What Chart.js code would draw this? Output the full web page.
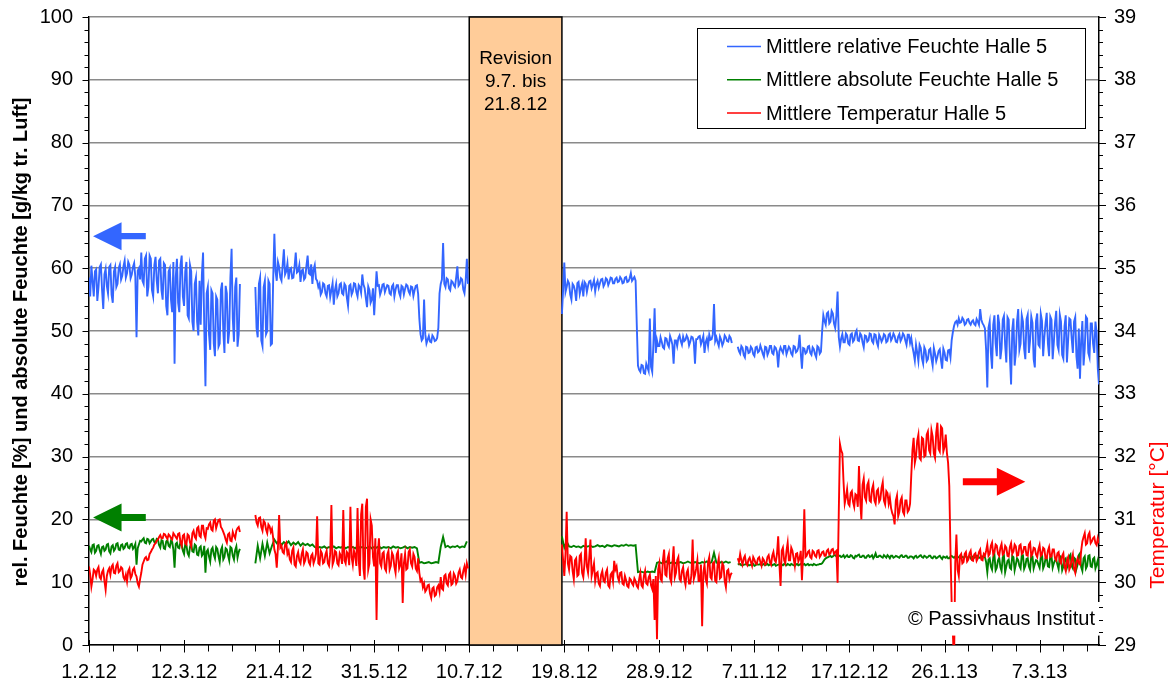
<!DOCTYPE html>
<html>
<head>
<meta charset="utf-8">
<script src="https://cdn.jsdelivr.net/npm/chart.js@4.4.1/dist/chart.umd.min.js"></script>
<style>
html,body{margin:0;padding:0;background:#fff;}
canvas{display:block;}
</style>
</head>
<body>
<canvas id="c" width="1171" height="689"></canvas>
<script>
// ---- DATA (day index from 1.2.2012; readings at 0:00 and 12:00) ----
const START_DATE = Date.UTC(2012, 1, 1);
const SEG_STARTS = [0, 70, 199, 273];
const X_TICK_STEP = 40;

// Mittlere relative Feuchte Halle 5 [%] - 0:00 readings
const rhA = [58.5,60.4,55.5,59.8,57,60.6,53.5,59.9,56,60.5,
 54.5,60.2,57.5,60.6,58.8,61.2,59.2,60.5,59,60.8,
 49,60,62.5,57.5,62,57,61.5,55.5,61.8,56,
 61.5,55,60.5,52.5,60,53,44.8,61.5,53,62,
 54,61,52,59.5,50,58.5,49.3,51,62.5,41.2,
 57,47,56,46,55,48,57.7,46.5,56,50,
 63.1,48.3,58.5,49.5];
const rhB = [57,49,58.5,47.6,58,50,57.5,48,65.5,58,
 60.2,58,63,59.5,58.2,60,58.5,62.5,59.5,57.8,
 59.8,58.5,62,59,57.5,60.5,58,57.5,56.2,57.4,
 55.5,57.3,56.5,54.2,57.5,56,57.6,55.8,57.2,54,
 57.4,56.3,57.5,55.5,57,59,56.8,53.8,56.5,55,
 52.5,59.5,57.3,56.4,57.5,56.8,57.2,55.8,57.4,56.6,
 57.3,55.5,57,56.7,57.2,55.9,57,56.5,57.3,52,
 48.5,55,48,49.2,48.2,49,48.5,50.5,57.5,64,
 57,58.2,56.5,57.8,57,60.3,57.5,58.2,56,61.5];
const rhC = [52.7,60.9,57,57.6,55,57.2,54.8,57.8,56.8,55.5,
 57.5,57.2,58,57.4,56.3,58,57.6,58.3,57.5,58.2,
 57.8,58.4,57.6,58.5,57.9,58.3,57.7,58.6,57.9,59.2,
 58.3,58,44.5,43.5,44.5,43.2,44.2,52,43.5,53.6,
 48.5,47.6,48.3,47.2,48.8,47.5,48.6,44.8,48.5,48.9,
 48.4,49.1,48.6,48.9,48.3,49,44.8,48.7,49.2,48.5,
 46.5,48.8,49.4,48.7,54.3,49,47.6,48.6,48.2,49,
 48.3,48.9];
const rhD = [47.5,46.4,47.3,45.8,47.4,46.6,47.2,46,47.5,46.8,
 47.1,45.9,47.4,46.7,47.6,46.3,47.3,44.2,47.4,46.5,
 47.6,46.9,47.2,46.1,47.5,46.8,49.4,44,47.2,46.6,
 47.6,46.2,47.1,45.8,47.4,46.7,52.5,51,53,51.5,
 52.8,50.5,56.3,47.5,49.5,48.2,49.3,47.8,49.6,48.6,
 50.1,48.4,49.3,47.4,49.2,48.5,49.5,48.1,49.4,47.6,
 49,48.7,49.3,48.4,49.6,48.9,49.2,48.2,49.5,48.8,
 49.3,47.8,49.4,48.9,46.5,47.8,45.2,47.3,44.8,46.9,
 45.5,47.2,44.5,46.4,45.9,47.1,44,46.6,45.3,47,
 48.5,50.8,51.6,52,51.4,51.8,51.2,51.9,51,51.7,
 50.9,51.5,53.5,51.2,50.4,41,51.5,44,52.5,46,
 51.2,47.2,52.4,45,51.8,41.5,52,46.5,53.5,48,
 51.5,45.5,52.6,48.5,51.3,44.2,52.8,47.5,51.6,49,
 52.9,46,51.8,48.2,53.2,47,51.5,45.6,52.5,48.4,
 51.8,46.5,52.2,44,42.4,51.6,47.2,52,45.8,51.2,
 46.5,49.8,41.5];
// relative Feuchte - 12:00 readings
const rhA2 = [55.5,58,59.5,54.8,60.2,56.5,59,57.2,60.2,55.8,
 59.5,57,60,58.2,60.3,58.5,61,58.4,60.2,58.6,
 59.6,58.2,58,61.5,55.5,62,56.5,60.5,58,61.2,
 56.5,60.8,54,59.5,55,61,58.5,54.5,60.5,55.5,
 59.5,52.5,60.5,51.5,57.5,51.5,58,59,50.5,56,
 49.5,56.5,48,55.5,47.5,56.5,50,57.2,48,58.5,
 52,57,47.5,57.5];
const rhB2 = [50.5,57.5,48.5,57,49.5,58,47.8,58.2,59.5,61,
 58.5,60.5,59,60.8,59.8,58.4,60.2,59.3,60.5,59.6,
 58.2,60.4,59.2,60.6,59.8,58.3,57,55.8,57.6,56,
 57.2,55.4,57.6,56.5,55.5,57.4,56,57.5,55.3,57.2,
 55.8,57.6,56.2,57.3,56.1,57.4,55.2,57.1,54.5,56.8,
 56,57.2,55.8,57.4,56.2,57.3,56,57.1,55.5,57.3,
 56.1,57.2,55.8,57.4,56.3,57.1,55.6,57.2,55.9,49.5,
 48.8,49.5,48.6,48.3,49.3,48.4,48.9,56,58.2,57.5,
 58.4,56.8,58,57.3,58.5,57.2,58.4,56.6,58,57.5];
const rhC2 = [56.5,56.2,58,55.8,57.5,56.4,57.6,55.9,57.5,57.8,
 56.2,57.9,56.8,58.1,57.5,56.9,58.2,57.1,58.4,57.3,
 58.5,57.6,58.3,57.8,58.6,57.6,58.5,57.8,58.4,58,
 58.6,51,43.8,44.6,43.3,44.8,43.6,44.3,48,46.5,
 47.6,49,47.4,48.9,47.9,49.2,47.8,48.5,47.6,49.3,
 47.8,48.4,49.3,47.7,49.1,48.2,48.7,49.1,47.9,49.2,
 48.2,47.6,48.6,49.5,48.4,48.2,49.1,47.7,49.3,48.4,
 49.2,48.1];
const rhD2 = [46.8,47.6,46.2,47.5,46.5,47.5,46.3,47.4,46.6,47.7,
 46.4,47.5,46.2,47.6,46.5,47.5,46.6,46.8,46.9,47.6,
 46.3,47.5,46.4,47.6,46.6,47.4,46.5,47.3,46.4,47.5,
 46.5,47.4,46.3,47.6,46.4,50,51.6,52.8,51.2,53.2,
 51.2,52.5,49,48.8,48.2,49.6,48,49.4,48.3,49.7,
 48.5,49.6,48.2,49.3,48.3,49.6,48.4,49.5,48.2,49.4,
 48.3,49.5,48.2,49.4,48.5,49.6,48.3,49.1,48.4,49.6,
 48.5,49.4,48.1,47.5,45.3,46.6,47.8,45.6,47.4,45.2,
 47,45.6,47.3,45.2,46.8,45.4,47.2,45.4,46.9,45.8,
 49.8,51.4,51,51.3,52.1,51,51.8,51.3,51.5,51.1,
 51.9,51,51.8,50.9,47,50.5,46.5,51,48,52.6,
 45.5,51.8,47.8,52.2,46,50.2,44.5,51.5,47,52.5,
 47.2,51.9,46.5,52.3,45.5,51.6,47.8,52.7,46,51.2,
 48,52.3,45.5,51.4,47.8,52.6,46.2,50.8,45,52,
 48.8,51.5,46,50.4,48.5,44.5,52.3,46.5,51.2,48,
 51.5,44,45];

// Mittlere absolute Feuchte Halle 5 [g/kg] - 0:00 readings
const ahA = [15.8,14.8,16,15,15.9,14.5,15.7,15.2,16.1,14.6,
 15.9,15.3,16.2,15.1,16,15.5,16.2,15.4,16.1,15.6,
 12.8,16,16.5,17,16.2,16.8,16.5,16.9,16.3,16.8,
 15.5,16.6,15.3,16.7,15.6,16.4,12.3,16.3,15.4,16,
 14.5,15.9,14.2,16.2,14.8,15.8,14.3,15.7,14.5,11.5,
 15.2,13.3,15.5,13.8,15.3,13.2,15.6,14,15.2,13.5,
 15.4,13.6,15.7,14.8];
const ahB = [13,15.8,13.8,16.1,14.2,16.3,14.6,15.8,16.8,16.2,
 16.6,15.9,16.4,16.1,16.5,15.9,16.3,16,16.4,15.8,
 16.2,15.9,16.1,15.8,16,15.6,15.4,15.6,15.5,15.7,
 15.4,15.6,15.5,15.7,15.4,15.6,15.5,15.7,15.4,15.6,
 15.5,15.6,15.4,15.7,15.5,15.6,15.4,15.5,15.7,15.4,
 15.6,15.5,15.7,15.4,15.6,15.5,15.6,15.4,15.7,15.5,
 15.6,15.4,15.5,15.7,15.4,15.6,15.5,15.6,15.4,13.1,
 13.2,13,13.1,13.2,13,13.1,13.2,13.1,15.6,17.2,
 15.6,15.8,15.5,15.7,15.6,15.8,15.5,15.7,15.6,16.5];
const ahC = [17.3,15.5,16.5,15.7,15.6,15.8,15.6,15.7,15.5,15.8,
 15.6,15.7,15.8,15.6,15.7,15.9,15.7,15.8,15.6,15.9,
 15.8,15.7,15.9,15.8,15.7,15.9,15.8,16,15.8,15.9,
 15.8,15.9,11.6,11.7,11.6,11.5,11.7,11.6,11.7,11.6,
 13.1,13.2,13,13.1,13.3,13,13.1,13.2,13,13.1,
 13.2,13,13.1,13.3,13.1,13,13.2,13.1,13,13.2,
 13.1,13.3,13,13.2,14.7,13.1,13,13.2,13.1,13.3,
 13.1,13.2];
const ahD = [12.8,12.9,12.7,12.8,12.9,12.7,12.8,12.6,12.9,12.8,
 12.7,12.9,12.8,12.7,12.9,12.8,12.6,12.8,12.9,12.7,
 12.8,12.9,12.7,12.8,12.6,12.9,12.8,12.7,12.9,12.8,
 12.7,12.8,12.9,12.7,12.8,12.9,13.3,13.8,14,14.2,
 14.1,14.3,14,14.2,14.1,13.9,14.3,14,14.2,13.8,
 14.1,14.4,14,14.2,13.9,14.3,14.1,13.8,14.6,14,
 14.2,13.9,14.1,14.3,13.8,14.2,14,14.1,13.9,14.3,
 14,14.2,13.9,14.1,13.8,14.2,14,14.3,13.9,14.1,
 14,14.2,13.8,14.1,13.9,14.2,13.7,14,14.1,13.8,
 14.2,13.9,14.1,14,14.2,13.9,14.1,14,13.8,14.1,
 14,14.2,13.9,14.1,14,11.6,13.8,12,14.4,12.3,
 13.9,11.8,14.2,12.5,13.6,12.1,14,12.8,13.5,12.2,
 14.3,12.6,13.8,12,14.1,12.9,13.4,12.3,14.5,12.7,
 13.9,12.4,14.2,13,13.6,12.1,14,12.5,13.8,12.9,
 14.4,12.2,13.7,12.8,14.6,11.8,14.1,12.6,14.3,12.4,
 13.9,12.8,12];
// absolute Feuchte - 12:00 readings (segments A and D)
const ahA2 = [15.2,15.9,14.7,15.8,15.1,15.6,15,16,14.9,15.7,
 15,16.1,15.2,15.9,15.3,16.1,15.5,16,15.3,16.1,
 15.4,16.6,16.8,16.3,16.9,16.2,16.8,16.4,16.9,15.9,
 16.7,15.4,16.5,15.8,16.6,15.2,16.1,15.5,16.5,15,
 16.1,14.6,15.6,14.9,16,14.4,15.5,14.2,15.8,14.9,
 14.1,15.2,14.4,15.6,14.1,15.1,13.6,15.4,14.3,15.6,
 14.2,15.1,13.9,15.3];
const ahD2 = [12.9,12.7,12.8,12.9,12.7,12.8,12.9,12.7,12.8,12.9,
 12.8,12.7,12.9,12.8,12.7,12.9,12.7,12.8,12.8,12.9,
 12.7,12.8,12.9,12.7,12.8,12.7,12.9,12.8,12.7,12.9,
 12.8,12.7,12.8,12.8,12.9,13,13.6,13.9,14.1,14,
 14.3,14.1,14.2,14,14.3,14.1,14,14.3,13.9,14.2,
 14.3,14,14.2,13.9,14.2,14,14.3,14.1,14,14.2,
 14,14.3,13.9,14.1,14.2,13.9,14.2,14,14.2,14,
 14.2,13.9,14.1,14,14.1,13.9,14.2,14,14.2,13.9,
 14.2,13.9,14.1,13.8,14.1,13.9,14.1,13.9,13.8,14.1,
 14,14.1,13.9,14.2,14,14.1,13.9,14.2,14,13.9,
 14.2,13.9,14.1,14,13.2,13.6,12.5,13.9,11.9,13.5,
 12.4,14,11.6,13.4,12.3,14.2,11.9,13.8,12.6,14.3,
 12.1,13.7,12.5,14.2,12.2,13.5,12.8,14,12.2,13.8,
 12.5,14.1,12.3,13.5,12.8,14.2,11.9,13.6,12.3,14.1,
 12.6,13.9,12.1,14.3,12.4,13.8,12.2,14.2,12.5,13.7,
 12.2,13.5,12.5];

// Mittlere Temperatur Halle 5 [°C] - 0:00 readings
const tA = [30.25,29.93,30.2,30.1,30.24,30.05,30.2,29.88,30.18,30.12,
 30.28,30.14,30.3,30.18,30.22,30.04,30.01,30.22,30.1,30.23,
 30.09,29.93,30.15,30.33,30.4,30.36,30.48,30.55,30.62,30.68,
 30.75,30.7,30.76,30.69,30.74,30.68,30.75,30.69,30.78,30.58,
 30.76,30.6,30.74,30.57,30.82,30.69,30.88,30.72,30.9,30.7,
 30.85,30.95,30.82,31,30.93,31,30.85,30.75,30.63,30.78,
 30.65,30.74,30.82,30.88];
const tB = [31.07,30.9,31.03,30.82,30.95,30.78,30.89,30.85,30.52,30.23,
 31.07,30.58,30.46,30.63,30.5,30.32,30.55,30.25,30.48,30.3,
 30.52,30.35,30.46,30.28,30.45,30.36,31.05,30.28,30.46,30.32,
 30.5,30.26,31.23,30.34,30.48,30.27,30.42,31.15,30.3,30.45,
 31.2,30.28,30.43,31.18,30.1,31.25,30.04,31.33,30.3,30.9,
 30.25,29.4,30.7,30.25,30.48,30.18,30.5,30.26,30.42,30.15,
 30.49,30.28,29.67,30.45,30.22,30.52,30.25,30.4,30.18,30.15,
 30.05,29.98,29.88,29.96,29.75,29.92,29.8,29.95,30.08,29.88,
 30.12,29.95,30.15,29.98,30.1,30.02,30.2,30.06,30.25,30.3];
const tC = [30.6,30.1,31.12,30.2,30.4,30.05,30.38,30.12,30.45,30.08,
 30.7,30.15,30.68,30.2,30.02,30.16,29.94,30.18,30,30.2,
 29.92,30.15,30.34,30.25,30.02,30.16,29.96,30.03,29.92,30.04,
 29.95,30.02,29.91,30.15,29.92,30.18,29.96,30.12,29.89,29.4,
 29.09,30.3,30.02,30.52,30.1,30.45,30,30.57,30.15,30.4,
 30.02,30.24,29.96,30.2,29.98,30.68,30.12,30.35,30.02,29.3,
 30.28,29.98,30.4,30.05,30.32,30,30.38,30.08,30.26,29.92,
 30.2,30.12];
const tD = [30.38,30.45,30.28,30.42,30.27,30.39,30.26,30.36,30.29,30.4,
 30.26,30.35,30.3,30.43,30.28,30.48,30.32,30.73,29.94,30.55,
 30.3,30.63,30.35,30.5,30.26,30.46,30.38,30.03,31.16,30.42,
 30.5,30.38,30.48,30.4,30.51,30.43,30.49,30.42,30.52,30.46,
 30.53,30.48,29.99,32.2,32.05,31.25,31.48,31.22,31.45,31.2,
 31.38,31.85,31,31.65,31.3,31.6,31.28,31.55,31.25,31.48,
 31.32,31.59,31.24,31.42,31.35,31.1,30.92,31.38,31.12,31.35,
 31.08,31.3,31.15,31.7,32.3,32,32.35,31.95,32.28,32.02,
 32.4,32.05,32.32,31.98,32.54,32.08,32.45,32.15,32.06,31.53,
 29.67,28.7,30.76,30.1,30.45,30.32,30.48,30.36,30.5,30.34,
 30.46,30.38,30.52,30.35,30.42,30.6,30.45,30.63,30.48,30.58,
 30.42,30.61,30.46,30.55,30.41,30.62,30.49,30.57,30.43,30.6,
 30.47,30.56,30.42,30.63,30.45,30.54,30.4,30.59,30.44,30.53,
 30.38,30.56,30.41,30.52,30.35,30.48,30.3,30.46,30.18,30.4,
 30.25,30.44,30.15,30.38,30.28,30.65,30.78,30.62,30.79,30.65,
 30.72,30.59,30.62];
// Temperatur - 12:00 readings
const tA2 = [30.12,30.05,30.18,30.2,30.08,30.16,30.02,30.1,30.22,30.25,
 30.15,30.26,30.16,30.24,30.08,30.12,30.18,30.06,30.2,30.13,
 29.98,30.05,30.28,30.38,30.35,30.45,30.52,30.6,30.66,30.72,
 30.7,30.77,30.72,30.76,30.7,30.78,30.72,30.77,30.64,30.74,
 30.62,30.76,30.63,30.78,30.72,30.86,30.74,30.9,30.76,30.86,
 30.92,30.84,30.98,30.86,30.99,30.88,30.8,30.68,30.76,30.66,
 30.8,30.7,30.86,30.8];
const tB2 = [30.95,31.02,30.88,30.98,30.84,30.92,30.8,30.7,30.45,30.55,
 30.55,30.48,30.6,30.45,30.36,30.5,30.28,30.42,30.34,30.45,
 30.3,30.48,30.32,30.42,30.3,30.45,30.3,30.5,30.3,30.44,
 30.3,30.45,30.28,30.5,30.3,30.46,30.29,30.35,30.48,30.27,
 30.4,30.5,30.26,30.35,31.08,30.22,31.2,30.2,31,30.4,
 30.7,30.45,30.3,30.46,30.22,30.44,30.2,30.47,30.25,30.44,
 30.22,30.46,30.3,30.2,30.48,30.3,30.45,30.22,30.38,30.02,
 29.92,29.85,29.95,29.82,29.9,29.78,29.92,29.85,29.9,30.1,
 29.98,30.12,29.96,30.14,29.98,30.15,30.08,30.18,30.12,30.22];
const tC2 = [30.35,30.45,30.3,30.42,30.18,30.35,30.1,30.42,30.15,30.3,
 30.25,30.4,30.1,30.3,30.14,29.98,30.12,30.02,30.15,29.95,
 30.12,30.02,30.2,30.08,30.15,29.98,30.1,29.94,30.06,29.98,
 30.06,29.94,30.05,29.95,30.1,29.98,30.08,29.95,30.05,30.1,
 30.2,30.05,30.35,30.12,30.38,30.06,30.3,30.08,30.35,30.05,
 30.18,30.05,30.15,29.98,30.12,30.05,30.22,30.02,30.28,30.15,
 30.05,30.32,30.08,30.3,30.02,30.28,30.06,30.3,30.02,30.18,
 30.05,30.15];
const tD2 = [30.32,30.35,30.38,30.3,30.36,30.32,30.4,30.3,30.38,30.32,
 30.38,30.28,30.4,30.32,30.42,30.35,30.45,30.3,30.5,30.35,
 30.5,30.35,30.55,30.38,30.45,30.33,30.5,30.45,30.4,30.48,
 30.4,30.5,30.42,30.5,30.4,30.48,30.42,30.5,30.44,30.52,
 30.45,30.5,31.1,32.1,31.6,31.35,31.25,31.42,31.28,31.4,
 31.2,31.3,31.55,31.35,31.55,31.3,31.48,31.3,31.45,31.28,
 31.5,31.3,31.45,31.25,31.18,31.05,31.3,31.05,31.3,31.12,
 31.3,31.12,31.25,32.1,31.9,32.25,31.98,32.3,32,32.35,
 32.1,32.42,32.05,32.38,32.12,32.48,32.08,32.35,31.9,30.5,
 29.2,30.3,30.2,30.42,30.3,30.45,30.33,30.46,30.35,30.44,
 30.34,30.48,30.36,30.45,30.5,30.42,30.58,30.44,30.6,30.45,
 30.55,30.44,30.58,30.42,30.56,30.45,30.6,30.42,30.58,30.45,
 30.56,30.43,30.6,30.42,30.55,30.44,30.52,30.42,30.55,30.38,
 30.5,30.4,30.52,30.38,30.46,30.33,30.42,30.25,30.35,30.2,
 30.36,30.22,30.32,30.3,30.5,30.72,30.6,30.75,30.62,30.7,
 30.62,30.7,30.6];

const LABELS = ['Mittlere relative Feuchte Halle 5','Mittlere absolute Feuchte Halle 5','Mittlere Temperatur Halle 5'];
const COLORS = ['#3366FF','#008000','#FF0000'];
const REVISION = {from: 160, to: 199, text: ['Revision','9.7. bis','21.8.12']};
const COPYRIGHT = '\u00A9 Passivhaus Institut';
const Y_TITLE_LEFT = 'rel. Feuchte [%] und absolute Feuchte [g/kg tr. Luft]';
const Y_TITLE_RIGHT = 'Temperatur [\u00B0C]';

// ---- build points ----
function series(segs, noons){
  const pts = [];
  segs.forEach((vals, k) => {
    const s = SEG_STARTS[k];
    const nn = noons[k];
    if (k) pts.push({x: s - 0.5, y: null});
    vals.forEach((v, i) => {
      pts.push({x: s + i, y: v});
      if (nn && i < nn.length) pts.push({x: s + i + 0.5, y: nn[i]});
    });
  });
  return pts;
}
function fmtDate(v){
  const d = new Date(START_DATE + v * 86400000);
  return d.getUTCDate() + '.' + (d.getUTCMonth() + 1) + '.' + String(d.getUTCFullYear()).slice(2);
}

const FONT = '"Liberation Sans", Arial, sans-serif';

const decor = {
  id: 'decor',
  beforeDatasetsDraw(chart){
    const {ctx, chartArea: a, scales: {x}} = chart;
    const x0 = x.getPixelForValue(REVISION.from), x1 = x.getPixelForValue(REVISION.to);
    ctx.save();
    ctx.fillStyle = '#FFCC99';
    ctx.fillRect(x0, a.top, x1 - x0, a.bottom - a.top);
    ctx.strokeStyle = '#000'; ctx.lineWidth = 1.5;
    ctx.strokeRect(x0, a.top, x1 - x0, a.bottom - a.top);
    ctx.fillStyle = '#000';
    ctx.font = '19px ' + FONT;
    ctx.textAlign = 'center'; ctx.textBaseline = 'middle';
    REVISION.text.forEach((t, i) => ctx.fillText(t, (x0 + x1) / 2, a.top + 41.5 + i * 23));
    ctx.restore();
  },
  afterDatasetsDraw(chart){
    const {ctx, chartArea: a, scales: {x, y, yT}} = chart;
    ctx.save();
    function arrow(xTail, xTip, yc, color, headLen, headHalf, shaftHalf){
      const dir = Math.sign(xTip - xTail);
      const xb = xTip - dir * headLen;
      ctx.fillStyle = color;
      ctx.beginPath();
      ctx.moveTo(xTail, yc - shaftHalf);
      ctx.lineTo(xb, yc - shaftHalf);
      ctx.lineTo(xb, yc - headHalf);
      ctx.lineTo(xTip, yc);
      ctx.lineTo(xb, yc + headHalf);
      ctx.lineTo(xb, yc + shaftHalf);
      ctx.lineTo(xTail, yc + shaftHalf);
      ctx.closePath();
      ctx.fill();
    }
    arrow(x.getPixelForValue(23.9), x.getPixelForValue(1.7), y.getPixelForValue(65.1), COLORS[0], 28.5, 14, 3.2);
    arrow(x.getPixelForValue(23.9), x.getPixelForValue(1.7), y.getPixelForValue(20.3), COLORS[1], 28.5, 14, 3.4);
    arrow(x.getPixelForValue(367.7), x.getPixelForValue(394), yT.getPixelForValue(31.6), COLORS[2], 28.5, 14, 3.5);

    // copyright box
    const cbL = x.getPixelForValue(342.5), cbT = y.getPixelForValue(6.85), cbB = y.getPixelForValue(1.5);
    ctx.fillStyle = '#fff';
    ctx.fillRect(cbL, cbT, a.right + 1.5 - cbL, cbB - cbT);
    ctx.fillStyle = '#000';
    ctx.font = '20px ' + FONT;
    ctx.textAlign = 'left'; ctx.textBaseline = 'middle';
    ctx.fillText(COPYRIGHT, cbL + 5, (cbT + cbB) / 2 + 1);

    // tick marks
    ctx.strokeStyle = '#000'; ctx.lineWidth = 1;
    ctx.beginPath();
    for (let d = 0; d <= x.max; d += 10) {
      const px = Math.round(x.getPixelForValue(d)) + 0.5;
      if (d % X_TICK_STEP === 0) { ctx.moveTo(px, a.bottom - 5); ctx.lineTo(px, a.bottom + 7.5); }
      else { ctx.moveTo(px, a.bottom); ctx.lineTo(px, a.bottom + 6.5); }
    }
    for (let v = 0; v <= 100; v += 2) {
      const py = Math.round(y.getPixelForValue(v)) + 0.5;
      ctx.moveTo(a.left - (v % 10 === 0 ? 6.5 : 4.5), py); ctx.lineTo(a.left, py);
    }
    for (let k = 0; k <= 50; k++) {
      const py = Math.round(yT.getPixelForValue(29 + k * 0.2)) + 0.5;
      ctx.moveTo(a.right, py); ctx.lineTo(a.right + (k % 5 === 0 ? 7 : 4), py);
    }
    ctx.stroke();

    // legend
    const lx = 697, ly = 28, lw = 388, lh = 100;
    ctx.fillStyle = '#fff';
    ctx.fillRect(lx, ly, lw, lh);
    ctx.strokeStyle = '#000'; ctx.lineWidth = 1;
    ctx.strokeRect(lx + 0.5, ly + 0.5, lw, lh);
    ctx.font = '20px ' + FONT;
    ctx.textAlign = 'left'; ctx.textBaseline = 'middle';
    LABELS.forEach((lab, i) => {
      const yy = ly + 18.5 + i * 33.3;
      ctx.strokeStyle = COLORS[i]; ctx.lineWidth = 1.5;
      ctx.beginPath(); ctx.moveTo(lx + 30, yy); ctx.lineTo(lx + 64, yy); ctx.stroke();
      ctx.fillStyle = '#000';
      ctx.fillText(lab, lx + 69, yy + 1);
    });

    // axis titles
    ctx.save();
    ctx.translate(21, 342); ctx.rotate(-Math.PI / 2);
    ctx.font = 'bold 20px ' + FONT; ctx.textAlign = 'center'; ctx.textBaseline = 'middle';
    ctx.fillStyle = '#000';
    ctx.fillText(Y_TITLE_LEFT, 0, 0);
    ctx.restore();
    ctx.save();
    ctx.translate(1158, 515); ctx.rotate(-Math.PI / 2);
    ctx.font = '21px ' + FONT; ctx.textAlign = 'center'; ctx.textBaseline = 'middle';
    ctx.fillStyle = '#FF0000';
    ctx.fillText(Y_TITLE_RIGHT, 0, 0);
    ctx.restore();
    ctx.restore();
  }
};

const tickFont = {family: FONT, size: 20};
new Chart(document.getElementById('c'), {
  type: 'line',
  data: {
    datasets: [
      {label: LABELS[2], data: series([tA, tB, tC, tD], [tA2, tB2, tC2, tD2]), yAxisID: 'yT', borderColor: COLORS[2]},
      {label: LABELS[1], data: series([ahA, ahB, ahC, ahD], [ahA2, null, null, ahD2]), yAxisID: 'y', borderColor: COLORS[1]},
      {label: LABELS[0], data: series([rhA, rhB, rhC, rhD], [rhA2, rhB2, rhC2, rhD2]), yAxisID: 'y', borderColor: COLORS[0]}
    ]
  },
  options: {
    responsive: false,
    animation: false,
    spanGaps: false,
    layout: {padding: {top: 17, left: 0, right: 0, bottom: 0}},
    elements: {point: {radius: 0, hitRadius: 0}, line: {borderWidth: 1.9, tension: 0}},
    plugins: {legend: {display: false}, tooltip: {enabled: false}},
    scales: {
      x: {
        type: 'linear', min: 0, max: 425,
        ticks: {stepSize: X_TICK_STEP, includeBounds: false, autoSkip: false, maxRotation: 0,
          callback: v => fmtDate(v), font: tickFont, color: '#000', padding: 15},
        grid: {drawOnChartArea: false, drawTicks: false},
        border: {color: '#000', width: 1.5},
        afterFit: s => { s.height = 44; s.paddingLeft = 0; s.paddingRight = 0; }
      },
      y: {
        position: 'left', min: 0, max: 100,
        ticks: {stepSize: 10, font: tickFont, color: '#000', padding: 16},
        grid: {color: '#8a8a8a', lineWidth: 1.5, drawTicks: false},
        border: {color: '#000', width: 1.5},
        afterFit: s => { s.width = 89; s.paddingTop = 0; s.paddingBottom = 0; }
      },
      yT: {
        position: 'right', min: 29, max: 39,
        ticks: {stepSize: 1, font: tickFont, color: '#000', padding: 15},
        grid: {drawOnChartArea: false, drawTicks: false},
        border: {color: '#000', width: 1.5},
        afterFit: s => { s.width = 72; s.paddingTop = 0; s.paddingBottom = 0; }
      }
    }
  },
  plugins: [decor]
});
</script>
</body>
</html>
